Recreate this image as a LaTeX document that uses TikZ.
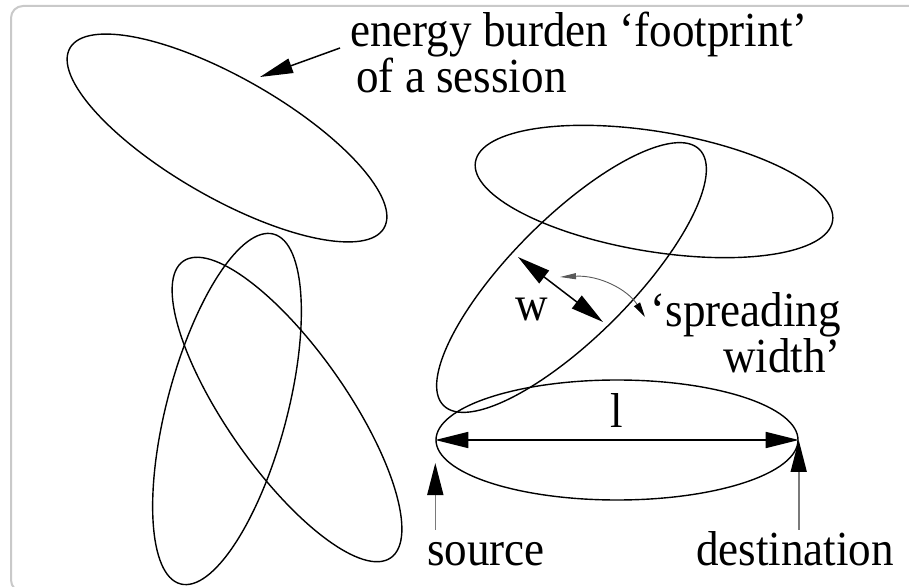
\documentclass[tikz,border=0pt]{standalone}
\usepackage{fontspec}
\setmainfont{Liberation Serif}[FakeStretch=0.92]
\usetikzlibrary{arrows.meta,positioning,shapes.geometric,calc}
\definecolor{framegray}{HTML}{C9C9C9}
\definecolor{shaftgray}{HTML}{7A7A7A}
\tikzset{
  session/.style={ellipse,draw,line width=1.4pt,inner sep=0pt,minimum width=362pt,minimum height=120pt},
  caption/.style={inner sep=0pt,font=\fontsize{49pt}{38pt}\selectfont},
  twoway/.style={{Triangle[length=33pt,width=16pt]}-{Triangle[length=33pt,width=16pt]},line width=1.5pt},
  pointer/.style={-{Triangle[length=33pt,width=15pt]},line width=1.5pt},
  endpointer/.style={-{Triangle[length=32pt,width=16pt,black]},line width=1.6pt,draw=shaftgray},
  hint/.style={{Triangle[length=16pt,width=6pt]}-{Triangle[length=15pt,width=7pt,black]},line width=0.9pt,draw=black!65},
  panel/.style={draw=framegray,line width=2pt,rounded corners=12pt}
}

\begin{document}
\begin{tikzpicture}[x=1pt,y=1pt]
  \useasboundingbox (0,0) rectangle (909,586);
  \draw[panel] (11,580) rectangle (930,-6);
  \node[session,rotate=-29.8] (footprint) at (227,448) {};
  \node[session,rotate=75.1] (leanright) at (227,177) {};
  \node[session,rotate=125] (leanleft) at (287,176.5) {};
  \node[session,rotate=-9.4] (flat) at (654,394.5) {};
  \node[session,rotate=45] (tilted) at (571.5,308.5) {};
  \node[session] (route) at (617,146) {};
  \node[caption,align=left,anchor=base west] (footnote) at (350,493) {energy burden ‘footprint’\\\hspace*{6pt}of a session};
  \node[caption,align=right,anchor=base east,font=\fontsize{49pt}{46pt}\selectfont] (spread) at (841,213) {‘spreading\\width’};
  \node[caption] (wlab) at (532,277) {w};
  \node[caption,anchor=base west,text height=35pt] (source) at (427,21) {source};
  \node[caption,anchor=base west,text height=35pt] (destination) at (696,21) {destination};
  \coordinate (fptip) at (260,509);
  \coordinate (wtop) at (518,329);
  \coordinate (wbot) at (603,264);
  \coordinate (wtip) at (560,309);
  \coordinate (sprtip) at (645,269);
  \draw[pointer] ([shift={(-10,45)}]footnote.base west) -- (fptip);
  \draw[twoway] (route.west) -- node[caption,above=12pt] (len) {l} (route.east);
  \draw[twoway] (wtop) -- (wbot);
  \draw[hint] (wtip) .. controls (600,311) and (628,296) .. (sprtip);
  \draw[endpointer] (source.north -| route.west) -- ([yshift=-23pt]route.west);
  \draw[endpointer] (destination.north -| route.east) -- (route.east);
\end{tikzpicture}
\end{document}
